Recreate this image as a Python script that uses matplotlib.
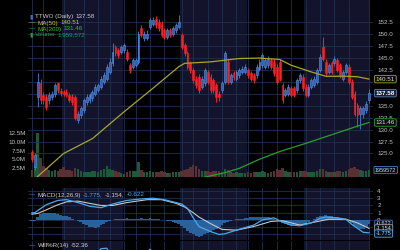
import numpy as np
import pandas as pd
import matplotlib
matplotlib.use('Agg')
import matplotlib.pyplot as plt
from matplotlib.text import Annotation

# trading days shown (TTWO daily, 2023)
holidays = ['2023-05-29', '2023-06-19', '2023-07-04', '2023-09-04']
days = pd.bdate_range('2023-05-16', '2023-11-01')
days = days[~days.isin(pd.to_datetime(holidays))]

opens = [125.3, 122.2, 136.8, 139.6, 137.2, 136.8, 136.1, 136.8, 137.5, 139.6,
         138.1, 137.9, 137.9, 137.2, 136.8, 136.8, 132.0, 133.0, 134.0, 135.8,
         136.1, 136.5, 137.5, 138.2, 138.9, 140.0, 140.6, 142.0, 143.8, 147.2,
         146.5, 146.2, 146.5, 146.2, 143.4, 143.1, 143.4, 144.1, 151.1, 149.0,
         149.0, 151.4, 152.1, 153.1, 152.5, 152.1, 150.7, 149.3, 150.7, 150.0,
         150.7, 151.4, 149.7, 147.6, 145.9, 143.8, 142.4, 140.6, 141.0, 138.9,
         139.6, 142.0, 141.0, 140.3, 139.3, 137.5, 138.2, 140.0, 144.1, 140.0,
         141.7, 140.6, 141.3, 142.0, 142.0, 142.4, 141.7, 141.3, 141.3, 142.7,
         143.4, 143.1, 143.4, 144.5, 144.1, 143.1, 144.1, 139.3, 137.2, 137.5,
         138.6, 138.6, 138.2, 140.3, 141.0, 138.9, 137.2, 138.9, 139.3, 140.0,
         142.4, 147.2, 144.1, 142.0, 143.8, 143.8, 144.5, 143.4, 140.6, 142.0,
         143.1, 140.0, 137.5, 135.1, 133.3, 133.3, 134.0, 136.1]
closes = [123.8, 124.6, 140.0, 136.1, 136.1, 134.7, 137.2, 137.3, 139.3, 138.2,
          137.6, 137.5, 137.2, 136.1, 135.8, 132.3, 133.3, 134.4, 136.1, 136.8,
          137.2, 137.9, 138.9, 139.3, 140.6, 141.3, 143.1, 144.1, 146.2, 145.9,
          145.5, 147.2, 147.6, 144.8, 142.4, 144.5, 144.5, 150.0, 149.7, 150.0,
          150.0, 152.8, 152.8, 151.8, 151.1, 149.7, 149.3, 150.7, 149.7, 151.1,
          151.8, 152.5, 147.2, 145.9, 143.1, 142.4, 140.3, 139.3, 138.2, 140.6,
          142.4, 140.0, 138.2, 138.2, 136.8, 136.7, 139.6, 145.9, 140.0, 141.3,
          140.9, 142.0, 142.4, 142.7, 143.1, 141.3, 140.6, 140.3, 143.1, 144.1,
          145.5, 144.5, 144.8, 143.1, 141.7, 140.0, 140.6, 136.1, 138.2, 138.9,
          137.2, 137.2, 140.3, 141.3, 138.6, 137.2, 138.9, 140.3, 140.6, 142.4,
          145.2, 144.8, 141.7, 143.4, 142.0, 144.8, 142.4, 141.3, 142.0, 143.4,
          140.0, 136.8, 133.3, 133.0, 134.4, 134.4, 135.4, 137.58]
highs = [125.8, 125.0, 141.7, 140.5, 137.9, 137.5, 137.9, 138.0, 139.8, 140.0,
         138.6, 138.3, 138.4, 137.6, 137.3, 137.2, 133.9, 134.9, 136.6, 137.3,
         137.7, 138.3, 139.4, 139.8, 141.1, 141.9, 143.6, 145.0, 148.0, 147.7,
         147.0, 147.7, 148.0, 146.7, 143.9, 145.0, 145.0, 150.5, 151.8, 150.5,
         150.7, 153.3, 153.4, 153.6, 153.0, 152.6, 151.2, 151.2, 151.2, 151.6,
         152.3, 153.8, 150.2, 148.1, 146.4, 144.3, 142.9, 141.1, 141.5, 141.1,
         142.9, 142.5, 141.5, 140.8, 139.8, 138.0, 140.1, 146.4, 144.6, 141.8,
         142.2, 142.5, 142.9, 143.2, 143.6, 142.9, 142.2, 141.8, 143.6, 144.6,
         146.0, 145.0, 145.3, 145.0, 144.6, 143.6, 144.6, 139.8, 138.7, 139.4,
         139.1, 139.1, 140.8, 141.8, 141.5, 139.4, 139.4, 140.8, 141.1, 142.9,
         145.7, 149.3, 144.6, 143.9, 144.3, 145.3, 145.0, 143.9, 142.5, 143.9,
         143.6, 140.5, 138.0, 135.6, 134.9, 135.0, 136.0, 138.5]
lows = [123.3, 121.6, 134.7, 135.4, 135.4, 134.0, 135.4, 136.2, 136.8, 137.6,
        137.0, 136.9, 136.7, 135.7, 135.1, 131.9, 131.4, 132.5, 133.5, 135.2,
        135.6, 136.0, 137.0, 137.8, 138.4, 139.5, 140.1, 141.5, 143.3, 145.3,
        145.0, 145.7, 146.0, 144.3, 141.8, 142.6, 143.0, 143.7, 149.2, 148.5,
        148.6, 150.9, 151.6, 151.2, 150.6, 149.2, 148.8, 148.8, 149.2, 149.5,
        150.2, 150.9, 146.7, 145.3, 142.6, 141.8, 139.7, 138.7, 137.6, 138.4,
        139.1, 139.4, 137.6, 137.6, 135.8, 136.0, 137.7, 139.5, 139.5, 139.4,
        140.4, 140.1, 140.8, 141.5, 141.5, 140.8, 140.1, 139.8, 140.8, 142.2,
        142.9, 142.6, 142.9, 142.6, 141.2, 139.5, 140.1, 135.6, 136.7, 137.0,
        136.7, 136.7, 137.7, 139.8, 138.1, 136.7, 136.7, 138.4, 138.8, 139.5,
        141.9, 144.3, 141.2, 141.5, 141.5, 143.3, 141.9, 140.8, 140.1, 141.5,
        139.5, 136.3, 132.8, 130.5, 130.2, 132.5, 133.5, 135.6]
volume_m = [2.0, 3.0, 12.5, 5.5, 3.0, 2.5, 2.0, 1.8, 2.0, 1.8,
            2.2, 2.8, 2.0, 2.0, 1.8, 2.6, 2.4, 1.6, 1.5, 1.4,
            1.5, 1.8, 1.6, 1.5, 2.0, 2.2, 3.2, 2.2, 2.0, 1.8,
            1.4, 1.2, 0.9, 1.5, 1.6, 1.8, 1.6, 4.2, 2.0, 1.5,
            1.3, 1.6, 1.4, 1.5, 1.4, 1.6, 1.3, 1.2, 1.1, 1.3,
            1.4, 1.5, 1.6, 2.0, 2.4, 2.8, 3.5, 3.0, 2.4, 1.8,
            1.7, 1.6, 1.5, 1.6, 1.7, 1.6, 1.4, 2.4, 2.0, 1.4,
            1.2, 1.3, 1.2, 1.0, 1.2, 1.3, 1.2, 1.3, 1.4, 1.5,
            1.6, 1.3, 1.2, 1.4, 1.6, 2.4, 2.0, 2.6, 1.6, 1.4,
            1.3, 1.4, 1.5, 1.6, 1.8, 1.6, 1.4, 1.3, 1.5, 1.7,
            2.2, 2.4, 1.8, 1.4, 1.5, 1.4, 1.6, 1.7, 1.5, 1.6,
            2.4, 2.6, 2.9, 2.3, 2.0, 1.8, 1.6, 1.96]

# moving averages (day index, value)
ma50_idx = [0, 2, 11, 21, 32, 42, 51, 53, 62, 72, 79, 86, 90, 97, 102, 109, 113, 117]
ma50_val = [119.0, 120.2, 125.0, 128.1, 133.7, 138.6, 143.1, 143.8, 144.1, 144.8,
            144.9, 144.6, 143.4, 142.0, 141.1, 141.1, 141.0, 140.51]
ma200_idx = [58, 67, 72, 79, 86, 95, 102, 108, 113, 117]
ma200_val = [119.8, 121.0, 121.9, 123.8, 125.4, 127.1, 128.5, 129.7, 130.7, 131.46]

# MACD(12,26,9)
macd_idx = [0, 1, 2, 5, 9, 12, 16, 20, 24, 28, 33, 38, 42, 46, 49, 52, 54, 56, 58, 62,
            65, 67, 71, 77, 80, 84, 87, 90, 93, 97, 100, 102, 106, 109, 111, 115, 117]
macd_val = [1.0, 1.0, 1.3, 2.1, 2.7, 2.8, 2.4, 1.9, 1.7, 2.2, 2.7, 2.9, 3.0, 2.8, 2.5,
            2.2, 1.6, 0.3, -0.9, -1.6, -2.0, -1.9, -1.4, -0.7, 0.0, 0.3, -0.3, -0.7,
            -0.8, -0.4, 0.2, 0.4, 0.3, 0.1, -0.6, -1.7, -1.775]
sig_idx = [0, 2, 5, 9, 12, 16, 20, 24, 28, 33, 40, 45, 50, 53, 56, 58, 62, 66, 71, 77,
           83, 87, 90, 93, 98, 103, 109, 113, 117]
sig_val = [0.8, 0.9, 1.4, 2.1, 2.5, 2.6, 2.3, 2.0, 2.0, 2.4, 2.8, 2.8, 2.3, 1.8, 1.0,
           0.4, -0.5, -1.3, -1.4, -0.9, -0.2, -0.1, -0.4, -0.7, -0.3, 0.1, 0.1, -0.4,
           -1.154]
hist = [-0.2, -0.2, 0.4, 0.8, 1.0, 1.0, 1.0, 0.95, 0.9, 0.85,
        0.75, 0.6, 0.5, 0.35, 0.2, 0.05, -0.1, -0.3, -0.5, -0.7,
        -0.9, -1.0, -1.05, -0.9, -0.7, -0.5, -0.3, -0.1, 0.0, 0.1,
        0.15, 0.2, 0.2, 0.25, 0.2, 0.15, 0.1, 0.2, 0.25, 0.2,
        0.2, 0.25, 0.2, 0.15, 0.1, 0.05, 0.0, -0.1, -0.2, -0.3,
        -0.4, -0.5, -0.8, -1.1, -1.5, -1.8, -2.0, -2.2, -2.3, -2.2,
        -2.0, -1.8, -1.6, -1.4, -1.2, -1.0, -0.7, -0.4, -0.3, -0.1,
        0.0, 0.1, 0.15, 0.2, 0.25, 0.3, 0.35, 0.4, 0.45, 0.45,
        0.45, 0.4, 0.35, 0.3, 0.2, 0.0, -0.2, -0.4, -0.6, -0.7,
        -0.8, -0.85, -0.8, -0.7, -0.6, -0.5, -0.3, 0.0, 0.2, 0.35,
        0.5, 0.6, 0.65, 0.6, 0.5, 0.45, 0.4, 0.3, 0.2, 0.1,
        -0.1, -0.4, -0.8, -1.1, -1.3, -1.2, -0.9, -0.622]

# Williams %R(14), only its top is visible
wr_idx = [0, 5, 10, 15, 20, 24, 26, 28, 32, 36, 41, 45, 50, 55, 60, 67, 75, 80, 87, 95,
          101, 106, 112, 117]
wr_val = [-60, -40, -45, -80, -35, -10, -9, -30, -40, -45, -11, -45, -35, -95, -60, -35,
          -45, -30, -80, -60, -30, -50, -95, -52.36]

tick_dates = ['2023-05-16', '2023-05-22', '2023-06-01', '2023-06-12', '2023-06-20',
              '2023-06-26', '2023-07-03', '2023-07-10', '2023-07-17', '2023-07-24',
              '2023-08-01', '2023-08-07', '2023-08-14', '2023-08-21', '2023-08-28',
              '2023-09-01', '2023-09-11', '2023-09-18', '2023-09-25', '2023-10-02',
              '2023-10-09', '2023-10-16', '2023-10-23', '2023-11-01']
tick_labels = ['16', '22', 'Jun', '12', '20', '26', 'Jul', '10', '17', '24', 'Aug', '7',
               '14', '21', '28', 'Sep', '11', '18', '25', 'Oct', '9', '16', '23', 'Nov']
shaded_months = [('2023-06-01', '2023-07-03'), ('2023-08-01', '2023-09-01'),
                 ('2023-10-02', '2023-11-02')]

idx = np.arange(len(days))
o = np.array(opens); c = np.array(closes)
up = c >= o
tick_pos = days.get_indexer(pd.to_datetime(tick_dates))

W, H = 400, 250
BG = 'black'
SHADE = '#13132b'
GRID = '#1d3050'
TXT = '#c0c0c0'
BLUE = '#3a72c4'
RED = '#ff2020'
FS = 4.5

plt.rcParams['font.family'] = ['Liberation Sans', 'DejaVu Sans']


def rect(x0, y0, x1, y1):
    return [x0 / W, 1 - y1 / H, (x1 - x0) / W, (y1 - y0) / H]


def panel_bg(a):
    a.set_facecolor(BG)
    for s0, s1 in shaded_months:
        i0 = np.searchsorted(days, pd.Timestamp(s0))
        i1 = np.searchsorted(days, pd.Timestamp(s1))
        a.axvspan(i0 - 0.5, i1 - 0.5, color=SHADE, zorder=0, lw=0)
    for p in tick_pos:
        a.axvline(p, color=GRID, lw=0.6, zorder=0.5)
    for s in a.spines.values():
        s.set_visible(False)
    a.set_xlim(-1.35, 118.4)


fig = plt.figure(figsize=(4, 2.5), dpi=100, facecolor=BG)

# ---- price panel with volume underneath
ax = fig.add_axes(rect(28, 0, 373, 177))
axv = ax.twinx()
axv.set_zorder(ax.get_zorder() - 1)
ax.patch.set_visible(False)
panel_bg(axv)
for s in ax.spines.values():
    s.set_visible(False)

vcol = np.where(up, '#1d5a3c', '#5a3034')
axv.bar(idx, volume_m, width=0.85, color=vcol, zorder=1)
axv.set_ylim(0, 50.1)
axv.yaxis.tick_left()
axv.set_yticks([2.5, 5.0, 7.5, 10.0, 12.5])
axv.set_yticklabels(['2.5M', '5.0M', '7.5M', '10.0M', '12.5M'])
axv.tick_params(axis='y', colors=TXT, labelsize=FS, length=0, pad=1.5)

price_ticks = np.arange(125, 155, 2.5)
for p in price_ticks:
    ax.axhline(p, color=GRID, lw=0.6, zorder=0.5)
ax.vlines(idx, lows, highs, colors=np.where(up, BLUE, RED), lw=0.7, zorder=2)
ax.bar(idx, np.abs(c - o), bottom=np.minimum(o, c), width=0.65,
       color=np.where(up, '#2f5fae', RED), edgecolor=np.where(up, '#5a94e6', RED),
       linewidth=0.4, zorder=3)
ax.plot(ma50_idx, ma50_val, color='#a6a62a', lw=0.9, zorder=4)
ax.plot(ma200_idx, ma200_val, color='#25a02d', lw=0.9, zorder=4)
ax.set_ylim(120.1, 157.0)
ax.yaxis.tick_right()
ax.set_yticks(price_ticks)
# 140.0 and 137.5 sit under the value boxes
ax.set_yticklabels(['' if p in (137.5, 140.0) else '%.1f' % p for p in price_ticks])
ax.tick_params(axis='y', colors=TXT, labelsize=FS, length=0, pad=3)
ax.tick_params(axis='x', bottom=False, labelbottom=False)
axv.set_xticks(tick_pos)
axv.set_xticklabels(tick_labels)
axv.tick_params(axis='x', colors=TXT, labelsize=FS, length=0, pad=1.5)
for t in axv.get_xticklabels():
    if not t.get_text().isdigit():
        t.set_fontweight('bold')
        t.set_color('#f0f0f0')

box = dict(boxstyle='round,pad=0.2', fc='#0c0c10', lw=0.6)
ytr = ax.get_yaxis_transform()
ax.text(1.008, ma50_val[-1], '140.51', transform=ytr, fontsize=FS,
        va='center', ha='left', color='#e0e090', bbox=dict(box, ec='#a6a62a'), zorder=6)
ax.text(1.008, closes[-1], '137.58', transform=ytr, fontsize=FS,
        va='center', ha='left', color='white', fontweight='bold',
        bbox=dict(box, ec='#5f7fb0', fc='#16203a'), zorder=6)
ax.text(1.008, ma200_val[-1], '131.46', transform=ytr, fontsize=FS,
        va='center', ha='left', color='#c8e8c8', bbox=dict(box, ec='#30a030'), zorder=6)
axv.text(1.006, volume_m[-1], '1959572', transform=axv.get_yaxis_transform(), fontsize=4.0,
         va='center', ha='left', color='#c8d8f0', bbox=dict(box, ec='#4a78b8'), zorder=6)


def legend_row(x, y, parts):
    # pieces of differently coloured text placed one after the other
    t = fig.text(x / W, 1 - y / H, parts[0][0], color=parts[0][1], fontsize=FS,
                 va='center', ha='left', zorder=10)
    for s, col in parts[1:]:
        t = fig.add_artist(Annotation(s, xy=(1, 0.5), xycoords=t, xytext=(1.6, 0),
                                      textcoords='offset points', color=col, fontsize=FS,
                                      va='center', ha='left', zorder=10))


legend_row(29, 16.5, [('\u25ae', BLUE), ('TTWO (Daily)', '#d0d0d0'), ('137.58', '#d0d0d0')])
legend_row(29, 23, [('\u2014', '#c8c832'), ('MA(50)', '#c8c832'), ('140.51', '#c8c832')])
legend_row(29, 29, [('\u2014', '#30c030'), ('MA(200)', '#30c030'), ('131.46', '#30c030')])
legend_row(29, 35, [('\u25ae', '#1e9a5a'), ('Volume', '#1e9a5a'), ('1,959,572', '#1e9a5a')])

# ---- MACD panel
am = fig.add_axes(rect(28, 188, 373, 240))
panel_bg(am)
for v in range(-2, 5):
    am.axhline(v, color=GRID, lw=0.6, zorder=0.5)
am.bar(idx, hist, width=1.0, color='#2f6fae', alpha=0.85, zorder=1)
am.plot(sig_idx, sig_val, color='#c8c8c8', lw=0.8, zorder=2)
am.plot(macd_idx, macd_val, color='#4aa8ec', lw=0.9, zorder=3)
am.set_ylim(-2.76, 4.41)
am.yaxis.tick_right()
am.set_yticks([0, 1, 2, 3, 4])
am.tick_params(axis='y', colors=TXT, labelsize=FS, length=0, pad=3)
am.tick_params(axis='x', bottom=False, labelbottom=False)
mtr = am.get_yaxis_transform()
am.text(1.008, hist[-1] + 0.1, '-0.622', transform=mtr, fontsize=4.0,
        va='center', ha='left', color='#c8d8f0', bbox=dict(box, ec='#4a78b8'), zorder=6)
am.text(1.008, sig_val[-1], '-1.154', transform=mtr, fontsize=4.0,
        va='center', ha='left', color='#e0e0e0', bbox=dict(box, ec='#a0a0a0'), zorder=7)
am.text(1.008, macd_val[-1] - 0.1, '-1.775', transform=mtr, fontsize=4.0,
        va='center', ha='left', color='#c8d8f0', bbox=dict(box, ec='#4aa8ec'), zorder=8)

legend_row(29, 195, [('\u2014', '#4aa8ec'), ('MACD(12,26,9)', '#d0d0d0'),
                     ('-1.775,', '#4aa8ec'), ('-1.154,', '#d0d0d0'), ('-0.622', '#4aa8ec')])

# ---- Williams %R panel (cut off at the bottom)
aw = fig.add_axes(rect(28, 241, 373, 300))
panel_bg(aw)
aw.plot(wr_idx, wr_val, color='#4aa8ec', lw=0.9, zorder=2)
aw.set_ylim(-110, 5)
aw.set_yticks([])
aw.tick_params(axis='x', bottom=False, labelbottom=False)
legend_row(29, 245.5, [('\u2014', '#4aa8ec'), ('Will%R(14)', '#d0d0d0'), ('-52.36', '#d0d0d0')])

fig.savefig('out.png', dpi=100, facecolor=BG)
